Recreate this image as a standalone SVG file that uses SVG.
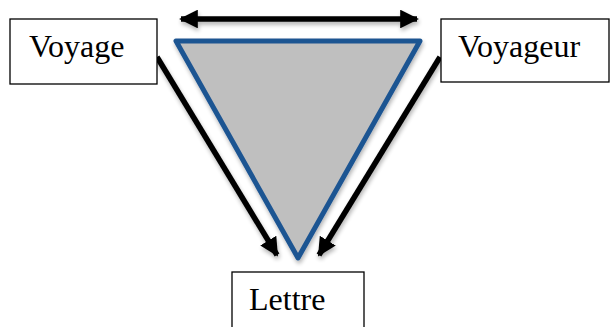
<svg xmlns="http://www.w3.org/2000/svg" width="610" height="327" viewBox="0 0 610 327">
<defs>
<style>
.box{fill:#fff;stroke:#000;stroke-width:1.3}
.lbl{font-family:"Liberation Serif","Times New Roman",serif;font-size:32px;fill:#000}
.arr{stroke:#000;stroke-width:5.5;fill:none;stroke-linecap:butt}
</style>
<filter id="sh" x="-20%" y="-20%" width="140%" height="140%">
<feGaussianBlur in="SourceAlpha" stdDeviation="2"/>
<feOffset dx="1" dy="3" result="b"/>
<feComponentTransfer><feFuncA type="linear" slope="0.3"/></feComponentTransfer>
<feMerge><feMergeNode/><feMergeNode in="SourceGraphic"/></feMerge>
</filter>
<marker id="ah" viewBox="0 0 10 10" refX="9" refY="5" markerWidth="3.4" markerHeight="3.4" orient="auto-start-reverse" markerUnits="strokeWidth">
<path d="M0,0 L10,5 L0,10 Z" fill="#000"/>
</marker>
</defs>
<g id="triangle" filter="url(#sh)">
<polygon points="176,41 420,41 298,258" fill="#bfbfbf" stroke="#1f5592" stroke-width="5" stroke-linejoin="round"/>
</g>
<g id="connectors" filter="url(#sh)">
<line class="arr" x1="181" y1="19" x2="417" y2="19" marker-start="url(#ah)" marker-end="url(#ah)"/>
<line class="arr" x1="157" y1="57" x2="277" y2="255" marker-end="url(#ah)"/>
<line class="arr" x1="440" y1="57" x2="319" y2="255" marker-end="url(#ah)"/>
</g>
<g id="voyage">
<rect class="box" x="10" y="19" width="147" height="65"/>
<text class="lbl" x="29" y="57">Voyage</text>
</g>
<g id="voyageur">
<rect class="box" x="441" y="19" width="168" height="63"/>
<text class="lbl" x="458" y="57">Voyageur</text>
</g>
<g id="lettre">
<rect class="box" x="232" y="272" width="132" height="60"/>
<text class="lbl" x="249" y="310">Lettre</text>
</g>
</svg>
